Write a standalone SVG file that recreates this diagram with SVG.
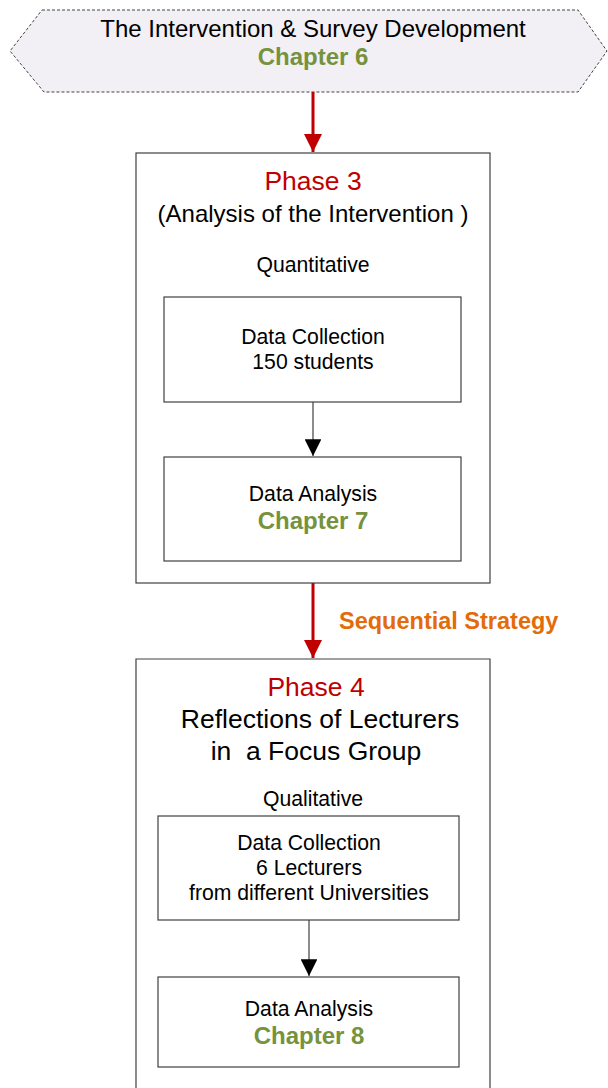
<svg xmlns="http://www.w3.org/2000/svg" width="608" height="1088" viewBox="0 0 608 1088">
<defs>
<style>
text{font-family:"Liberation Sans",Arial,sans-serif;text-anchor:middle;fill:#000}
.box{fill:#fff;stroke:#404040;stroke-width:1.2}
.red{fill:#C00000}
.green{fill:#76923C;font-weight:bold}
.t17{font-size:21.2px}
.t20{font-size:24px}
.t22{font-size:26.5px}
</style>
<marker id="ar" viewBox="0 0 10 10" refX="10" refY="5" markerWidth="6" markerHeight="6" markerUnits="strokeWidth" orient="auto"><path d="M0,0L10,5L0,10z" fill="#C00000"/></marker>
<marker id="ab" viewBox="0 0 10 10" refX="10" refY="5" markerWidth="14" markerHeight="14" markerUnits="strokeWidth" orient="auto"><path d="M0,0L10,5L0,10z" fill="#000"/></marker>
</defs>
<g id="n-top">
<polygon points="42,10 578,10 607,51 578,92 44,92 10,51" fill="#F2F0F5" stroke="#444" stroke-width="1" stroke-dasharray="3,2"/>
<text x="313" y="37" class="t20">The Intervention &amp; Survey Development</text>
<text x="313" y="65" class="t20 green">Chapter 6</text>
</g>
<g id="n-phase3">
<rect x="136" y="153" width="354" height="430" class="box"/>
<text x="313" y="190" class="t22 red">Phase 3</text>
<text x="313" y="222" class="t20">(Analysis of the Intervention )</text>
<text x="313" y="272" class="t17">Quantitative</text>
</g>
<g id="n-dc1">
<rect x="164" y="297" width="297" height="105" class="box"/>
<text x="313" y="344" class="t17">Data Collection</text>
<text x="313" y="369" class="t17">150 students</text>
</g>
<g id="n-da1">
<rect x="164" y="457" width="297" height="104" class="box"/>
<text x="313" y="501" class="t17">Data Analysis</text>
<text x="313" y="529" class="t20 green">Chapter 7</text>
</g>
<g id="n-phase4">
<path d="M136,1088V659H490V1088" class="box"/>
<text x="316" y="696" class="t22 red">Phase 4</text>
<text x="320" y="728" class="t22">Reflections of Lecturers</text>
<text x="316" y="760" class="t22" xml:space="preserve">in  a Focus Group</text>
<text x="313" y="806" class="t17">Qualitative</text>
</g>
<g id="n-dc2">
<rect x="158" y="816" width="301" height="104" class="box"/>
<text x="309" y="850" class="t17">Data Collection</text>
<text x="309" y="875" class="t17">6 Lecturers</text>
<text x="309" y="900" class="t17">from different Universities</text>
</g>
<g id="n-da2">
<rect x="158" y="977" width="301" height="90" class="box"/>
<text x="309" y="1016" class="t17">Data Analysis</text>
<text x="309" y="1044" class="t20 green">Chapter 8</text>
</g>
<g id="connectors">
<line x1="313" y1="92" x2="313" y2="152" stroke="#C00000" stroke-width="3" marker-end="url(#ar)"/>
<line x1="313" y1="402" x2="313" y2="456" stroke="#404040" stroke-width="1.2" marker-end="url(#ab)"/>
<line x1="313" y1="583" x2="313" y2="658" stroke="#C00000" stroke-width="3" marker-end="url(#ar)"/>
<line x1="309" y1="920" x2="309" y2="976" stroke="#404040" stroke-width="1.2" marker-end="url(#ab)"/>
<text x="339" y="629" style="text-anchor:start;font-size:23.5px;font-weight:bold;fill:#E36C09">Sequential Strategy</text>
</g>
</svg>
